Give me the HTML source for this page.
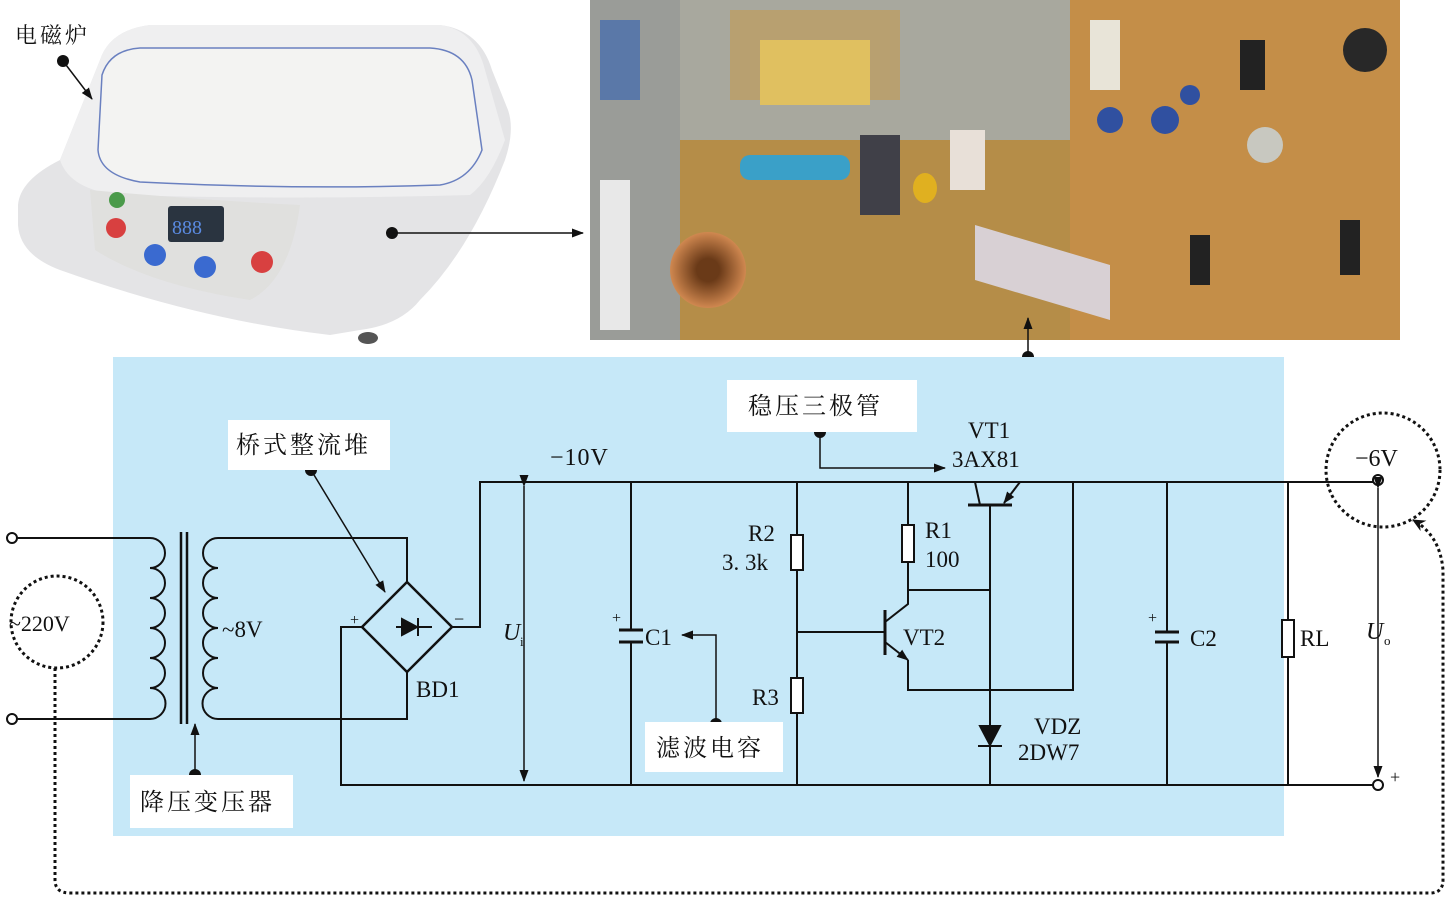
<!DOCTYPE html>
<html><head><meta charset="utf-8"><style>
body{margin:0;background:#fff;}
svg{display:block;}
text{font-family:"Liberation Serif","Noto Serif CJK SC",serif;fill:#111;}
.cjk{font-family:"Liberation Serif","Noto Serif CJK SC",serif;letter-spacing:3px;}
</style></head><body>
<svg width="1448" height="898" viewBox="0 0 1448 898" xmlns="http://www.w3.org/2000/svg">
<defs>
<marker id="ah" markerWidth="12" markerHeight="12" refX="11" refY="6" orient="auto" markerUnits="userSpaceOnUse"><path d="M0,1.5 L12,6 L0,10.5 Z" fill="#111"/></marker>
<marker id="ah2" markerWidth="14" markerHeight="14" refX="12" refY="7" orient="auto" markerUnits="userSpaceOnUse"><path d="M0,1 L13,7 L0,13 L4,7 Z" fill="#111"/></marker>
<radialGradient id="cop" cx="0.5" cy="0.5" r="0.5"><stop offset="0.3" stop-color="#6a3a18"/><stop offset="1" stop-color="#d08850"/></radialGradient>
</defs>

<!-- induction cooker photo -->
<path d="M18,205 Q20,180 60,160 L100,60 Q110,30 150,25 L440,25 Q480,30 492,70 L508,110 Q515,130 505,160 Q470,250 420,300 Q400,325 360,330 L330,335 Q200,320 60,270 Q20,255 18,225 Z" fill="#e4e4e6"/>
<path d="M60,160 L100,60 Q110,30 150,25 L440,25 Q475,30 485,70 L505,140 Q490,180 470,195 Q300,200 120,195 Q70,190 60,160Z" fill="#efeff0"/>
<path d="M102,75 Q110,50 140,48 L430,48 Q465,50 472,80 L482,150 Q470,180 440,185 Q300,190 140,182 Q100,175 98,150 Z" fill="#f3f3f2" stroke="#6a80c0" stroke-width="1.5"/>
<path d="M90,190 Q200,200 300,205 Q290,280 250,300 Q150,285 95,250 Z" fill="#e0e0de"/>
<rect x="168" y="206" width="56" height="36" fill="#2a3440" rx="3"/>
<text x="172" y="234" font-size="20" style="fill:#5a8ae0">888</text>
<circle cx="116" cy="228" r="10" fill="#d84040"/>
<circle cx="155" cy="255" r="11" fill="#3a6ad0"/>
<circle cx="205" cy="267" r="11" fill="#3a6ad0"/>
<circle cx="262" cy="262" r="11" fill="#d84040"/>
<circle cx="117" cy="200" r="8" fill="#4a9a4a"/>
<ellipse cx="368" cy="338" rx="10" ry="6" fill="#555"/>
<text x="15" y="43" font-size="22" class="cjk">电磁炉</text>
<circle cx="63" cy="61" r="6" fill="#111"/>
<line x1="63" y1="61" x2="92" y2="99" stroke="#111" stroke-width="1.5" marker-end="url(#ah)"/>
<circle cx="392" cy="233" r="6" fill="#111"/>
<line x1="392" y1="233" x2="583" y2="233" stroke="#111" stroke-width="1.5" marker-end="url(#ah)"/>

<!-- PCB photo -->
<rect x="590" y="0" width="810" height="340" fill="#b99352"/>
<rect x="590" y="0" width="90" height="340" fill="#9a9c98"/>
<rect x="600" y="20" width="40" height="80" fill="#5a78a8"/>
<rect x="600" y="180" width="30" height="150" fill="#e8e8e8"/>
<rect x="680" y="0" width="390" height="140" fill="#a8a89e"/>
<rect x="1070" y="0" width="330" height="340" fill="#c48e48"/>
<rect x="680" y="140" width="390" height="200" fill="#b58d48"/>
<rect x="730" y="10" width="170" height="90" fill="#b8a070"/>
<rect x="760" y="40" width="110" height="65" fill="#e0c060"/>
<rect x="740" y="155" width="110" height="25" rx="10" fill="#3aa0c8"/>
<rect x="860" y="135" width="40" height="80" fill="#404048"/>
<circle cx="708" cy="270" r="38" fill="url(#cop)"/>
<rect x="950" y="130" width="35" height="60" fill="#e8e0d8"/>
<path d="M975,225 L1110,265 L1110,320 L975,280 Z" fill="#d8d0d4"/>
<ellipse cx="925" cy="188" rx="12" ry="15" fill="#e0b020"/>
<circle cx="1365" cy="50" r="22" fill="#282828"/>
<rect x="1240" y="40" width="25" height="50" fill="#222"/>
<rect x="1190" y="235" width="20" height="50" fill="#222"/>
<rect x="1340" y="220" width="20" height="55" fill="#222"/>
<circle cx="1110" cy="120" r="13" fill="#3050a0"/>
<circle cx="1165" cy="120" r="14" fill="#3050a0"/>
<circle cx="1190" cy="95" r="10" fill="#3050a0"/>
<circle cx="1265" cy="145" r="18" fill="#c8c8c0"/>
<rect x="1090" y="20" width="30" height="70" fill="#e8e4d8"/>
<circle cx="1028" cy="357" r="6" fill="#111"/>
<line x1="1028" y1="357" x2="1028" y2="318" stroke="#111" stroke-width="1.5" marker-end="url(#ah)"/>

<!-- blue panel -->
<rect x="113" y="357" width="1171" height="479" fill="#c6e8f8"/>

<g stroke="#111" stroke-width="2" fill="none">
<circle cx="12" cy="538" r="5" fill="#fff"/>
<circle cx="12" cy="719" r="5" fill="#fff"/>
<polyline points="17,538 150,538"/>
<polyline points="17,719 150,719"/>
<path d="M150,538 a15,15 0 0 1 0,30 a15,15 0 0 1 0,30 a15,15 0 0 1 0,30 a15,15 0 0 1 0,30 a15,15 0 0 1 0,30 a15,15 0 0 1 0,31"/>
<line x1="181" y1="532" x2="181" y2="724" stroke-width="2.5"/>
<line x1="187" y1="532" x2="187" y2="724" stroke-width="2.5"/>
<path d="M218,538 a15,15 0 0 0 0,30 a15,15 0 0 0 0,30 a15,15 0 0 0 0,30 a15,15 0 0 0 0,30 a15,15 0 0 0 0,30 a15,15 0 0 0 0,31"/>
<polyline points="218,538 407,538 407,582"/>
<polyline points="218,719 407,719 407,672"/>
<polygon points="407,582 452,627 407,672 362,627" stroke-width="2.5"/>
<polyline points="362,627 341,627 341,785 1378,785"/>
<polyline points="452,627 480,627 480,482 1373,482"/>
<line x1="396" y1="627" x2="432" y2="627"/>
<polygon points="402,619 402,635 417,627" fill="#111"/>
<line x1="418" y1="618" x2="418" y2="636"/>
<line x1="524" y1="486" x2="524" y2="781" marker-end="url(#ah)" marker-start="url(#ah)" stroke-width="1.5"/>
<line x1="631" y1="482" x2="631" y2="630"/>
<line x1="631" y1="642" x2="631" y2="785"/>
<line x1="619" y1="630" x2="643" y2="630" stroke-width="3"/>
<line x1="619" y1="642" x2="643" y2="642" stroke-width="3"/>
<polyline points="716,724 716,635 682,635" marker-end="url(#ah)" stroke-width="1.5"/>
<line x1="797" y1="482" x2="797" y2="785"/>
<rect x="791" y="535" width="12" height="35" fill="#fff"/>
<rect x="791" y="678" width="12" height="35" fill="#fff"/>
<line x1="797" y1="632" x2="885" y2="632"/>
<line x1="885" y1="610" x2="885" y2="655" stroke-width="3"/>
<polyline points="885,622 908,604 908,590 990,590"/>
<polyline points="885,642 908,660" marker-end="url(#ah)"/>
<polyline points="908,660 908,690 1073,690 1073,482"/>
<line x1="908" y1="482" x2="908" y2="590"/>
<rect x="902" y="525" width="12" height="37" fill="#fff"/>
<line x1="968" y1="505" x2="1012" y2="505" stroke-width="3"/>
<polyline points="975,482 980,505"/>
<line x1="1020" y1="482" x2="1004" y2="503" marker-end="url(#ah)"/>
<line x1="990" y1="505" x2="990" y2="785"/>
<polygon points="980,726 1000,726 990,745" fill="#111"/>
<line x1="978" y1="746" x2="1002" y2="746"/>
<polyline points="820,432 820,468 945,468" marker-end="url(#ah)" stroke-width="1.5"/>
<line x1="1167" y1="482" x2="1167" y2="632"/>
<line x1="1167" y1="642" x2="1167" y2="785"/>
<line x1="1155" y1="632" x2="1179" y2="632" stroke-width="3"/>
<line x1="1155" y1="642" x2="1179" y2="642" stroke-width="3"/>
<line x1="1288" y1="482" x2="1288" y2="785"/>
<rect x="1282" y="620" width="12" height="37" fill="#fff"/>
<circle cx="1378" cy="480" r="5" fill="#fff"/>
<circle cx="1378" cy="785" r="5" fill="#fff"/>
<line x1="1378" y1="488" x2="1378" y2="777" marker-end="url(#ah)" marker-start="url(#ah)" stroke-width="1.5"/>
<line x1="311" y1="470" x2="385" y2="592" stroke-width="1.5" marker-end="url(#ah)"/>
<line x1="195" y1="775" x2="195" y2="724" stroke-width="1.5" marker-end="url(#ah)"/>
<circle cx="57" cy="622" r="46" stroke-dasharray="3,3" stroke-width="3"/>
<circle cx="1383" cy="470" r="57" stroke-dasharray="3,3" stroke-width="3"/>
<path d="M55,668 L55,880 Q55,893 70,893 L1430,893 Q1443,893 1443,880 L1443,570 Q1440,535 1413,520" stroke-dasharray="3,3" stroke-width="3" marker-end="url(#ah2)"/>
</g>
<circle cx="311" cy="470" r="6" fill="#111"/>
<circle cx="195" cy="775" r="6" fill="#111"/>
<circle cx="820" cy="432" r="6" fill="#111"/>
<circle cx="716" cy="724" r="6" fill="#111"/>

<rect x="228" y="420" width="162" height="50" fill="#fff"/>
<text x="236" y="453" font-size="24" class="cjk">桥式整流堆</text>
<rect x="130" y="775" width="163" height="53" fill="#fff"/>
<text x="140" y="810" font-size="24" class="cjk">降压变压器</text>
<rect x="727" y="380" width="190" height="52" fill="#fff"/>
<text x="748" y="414" font-size="24" class="cjk">稳压三极管</text>
<rect x="645" y="722" width="138" height="50" fill="#fff"/>
<text x="656" y="756" font-size="24" class="cjk">滤波电容</text>

<g font-size="23">
<text x="9" y="631" font-size="22">~220V</text>
<text x="222" y="637">~8V</text>
<text x="350" y="625" font-size="16">+</text>
<text x="454" y="625" font-size="18">−</text>
<text x="416" y="697">BD1</text>
<text x="550" y="465" font-size="24" letter-spacing="1">−10V</text>
<text x="503" y="640" font-style="italic" font-size="24">U</text><text x="520" y="646" font-size="13">i</text>
<text x="612" y="623" font-size="16">+</text>
<text x="645" y="645">C1</text>
<text x="748" y="541">R2</text>
<text x="722" y="570">3. 3k</text>
<text x="752" y="705">R3</text>
<text x="925" y="538">R1</text>
<text x="925" y="567">100</text>
<text x="903" y="645">VT2</text>
<text x="968" y="438">VT1</text>
<text x="952" y="467">3AX81</text>
<text x="1034" y="734">VDZ</text>
<text x="1018" y="760">2DW7</text>
<text x="1148" y="623" font-size="16">+</text>
<text x="1190" y="646">C2</text>
<text x="1300" y="646">RL</text>
<text x="1355" y="466" font-size="24">−6V</text>
<text x="1366" y="639" font-style="italic" font-size="24">U</text><text x="1384" y="645" font-size="13">o</text>
<text x="1390" y="783" font-size="18">+</text>
</g>
</svg>
</body></html>
